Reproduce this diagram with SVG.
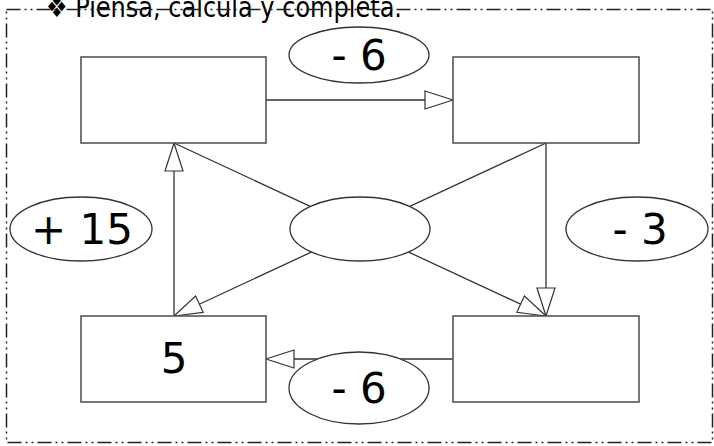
<svg xmlns="http://www.w3.org/2000/svg" width="714" height="446" viewBox="0 0 714 446">
<defs>
<marker id="arr" viewBox="0 0 30 20" refX="29" refY="10" markerWidth="30" markerHeight="20" markerUnits="userSpaceOnUse" orient="auto">
<path d="M1,1 L29,10 L1,19 Z" fill="#fff" stroke="#333" stroke-width="1.2"/>
</marker>
<style>
.box{fill:#fff;stroke:#555;stroke-width:1.6}
.ov{fill:#fff;stroke:#333;stroke-width:1.3}
.ln{fill:none;stroke:#333;stroke-width:1.3}
.num{font-family:"DejaVu Sans","Liberation Sans",sans-serif;font-size:42px;fill:#000;text-anchor:middle}
.title{font-family:"DejaVu Sans","Liberation Sans",sans-serif;font-size:29px;fill:#000}
</style>
</defs>
<rect width="714" height="446" fill="#fff"/>
<text class="title" x="46" y="17" textLength="356" lengthAdjust="spacingAndGlyphs">❖ Piensa, calcula y completa.</text>
<rect x="6.5" y="9.5" width="706" height="433" fill="none" stroke="#222" stroke-width="1.5" stroke-dasharray="14,4,2,4,2,4"/>
<g id="connectors">
<line class="ln" x1="266" y1="100" x2="453" y2="100" marker-end="url(#arr)"/>
<line class="ln" x1="546" y1="143" x2="546" y2="316" marker-end="url(#arr)"/>
<line class="ln" x1="453" y1="359" x2="266" y2="359" marker-end="url(#arr)"/>
<line class="ln" x1="174" y1="316" x2="174" y2="143" marker-end="url(#arr)"/>
<line class="ln" x1="174" y1="143" x2="546" y2="316" marker-end="url(#arr)"/>
<line class="ln" x1="546" y1="143" x2="174" y2="316" marker-end="url(#arr)"/>
</g>
<g id="box-top-left"><rect class="box" x="81" y="57" width="185" height="86"/></g>
<g id="box-top-right"><rect class="box" x="453" y="57" width="186" height="86"/></g>
<g id="box-bottom-left"><rect class="box" x="81" y="316" width="185" height="86"/><text class="num" x="174" y="373">5</text></g>
<g id="box-bottom-right"><rect class="box" x="453" y="316" width="186" height="86"/></g>
<g id="center"><ellipse class="ov" cx="360" cy="229" rx="70" ry="32"/></g>
<g id="op-top"><ellipse class="ov" cx="359" cy="55" rx="70" ry="28"/><text class="num" x="359" y="70">- 6</text></g>
<g id="op-bottom"><ellipse class="ov" cx="359" cy="388" rx="70" ry="36"/><text class="num" x="359" y="403">- 6</text></g>
<g id="op-left"><ellipse class="ov" cx="81" cy="229" rx="71" ry="32"/><text class="num" x="82" y="244">+ 15</text></g>
<g id="op-right"><ellipse class="ov" cx="637" cy="229" rx="71" ry="32"/><text class="num" x="640" y="244">- 3</text></g>
</svg>
